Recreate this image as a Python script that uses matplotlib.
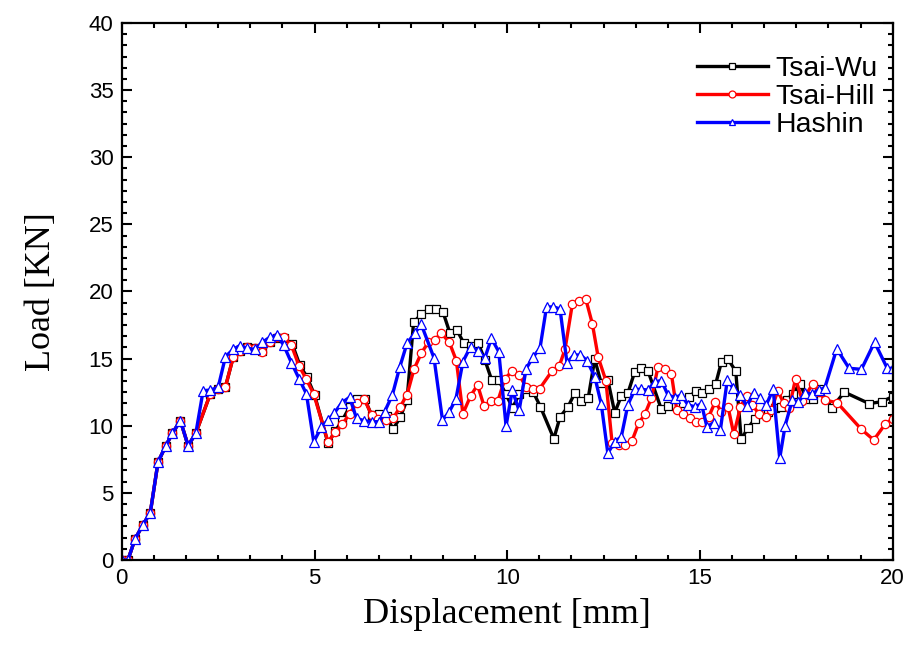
import matplotlib
matplotlib.use('Agg')
import matplotlib.pyplot as plt
from matplotlib.ticker import MultipleLocator, AutoMinorLocator

# Displacement [mm] / Load [KN]
wu_x = [0.0, 0.16, 0.34, 0.54, 0.74, 0.94, 1.14, 1.31, 1.52, 1.72, 1.92, 2.30, 2.50, 2.69,
        2.89, 3.07, 3.25, 3.45, 3.65, 3.84, 4.03, 4.20, 4.42, 4.62, 4.81, 5.00, 5.35, 5.54,
        5.72, 5.91, 6.11, 6.30, 6.48, 6.68, 6.87, 7.04, 7.23, 7.40, 7.57, 7.77, 7.96, 8.15,
        8.33, 8.51, 8.70, 8.87, 9.06, 9.24, 9.42, 9.60, 9.78, 9.97, 10.14, 10.31, 10.50,
        10.67, 10.86, 11.21, 11.37, 11.58, 11.75, 11.92, 12.10, 12.27, 12.44, 12.61, 12.79,
        12.96, 13.13, 13.31, 13.48, 13.65, 14.00, 14.17, 14.38, 14.55, 14.72, 14.89, 15.06,
        15.23, 15.41, 15.56, 15.73, 15.93, 16.07, 16.25, 16.42, 16.60, 16.77, 16.96, 17.11,
        17.26, 17.41, 17.60, 17.76, 17.93, 18.09, 18.42, 18.75, 19.39, 19.72, 20.0]
wu_y = [0.0, 0.0, 1.54, 2.58, 3.53, 7.3, 8.49, 9.43, 10.38, 8.52, 9.43, 12.4, 12.7, 12.9,
        15.1, 15.6, 15.9, 15.8, 15.6, 16.2, 16.5, 16.5, 16.1, 14.5, 13.6, 12.3, 8.7, 9.6,
        10.4, 11.4, 12.0, 12.0, 10.8, 10.9, 10.7, 9.73, 10.68, 11.92, 17.7, 18.3, 18.68, 18.68,
        18.5, 16.93, 17.1, 16.17, 15.95, 16.19, 14.9, 13.38, 13.38, 12.33, 11.33, 12.35, 12.75,
        12.54, 11.42, 9.03, 10.65, 11.42, 12.42, 11.87, 12.04, 14.95, 13.16, 13.41, 10.97,
        12.22, 12.42, 14.03, 14.28, 14.1, 11.22, 11.47, 11.45, 11.67, 12.15, 12.57, 12.44,
        12.71, 13.13, 14.77, 14.95, 14.06, 8.99, 9.85, 10.48, 10.87, 11.05, 11.3, 11.37,
        11.9, 12.4, 13.13, 12.0, 11.97, 12.71, 11.35, 12.5, 11.65, 11.79, 12.17]

hill_x = [0.0, 0.16, 0.34, 0.54, 0.74, 0.94, 1.14, 1.31, 1.52, 1.72, 1.92, 2.30, 2.50, 2.69,
          2.89, 3.07, 3.25, 3.45, 3.65, 3.84, 4.03, 4.20, 4.40, 4.60, 4.79, 4.98, 5.35, 5.54,
          5.72, 5.91, 6.10, 6.29, 6.48, 6.66, 6.85, 7.04, 7.22, 7.40, 7.58, 7.77, 7.95, 8.12,
          8.29, 8.50, 8.68, 8.85, 9.05, 9.23, 9.40, 9.58, 9.76, 9.94, 10.12, 10.31, 10.49,
          10.67, 10.84, 11.16, 11.35, 11.50, 11.69, 11.86, 12.04, 12.21, 12.36, 12.56, 12.72,
          12.89, 13.06, 13.24, 13.41, 13.57, 13.74, 13.91, 14.09, 14.26, 14.40, 14.56, 14.73,
          14.90, 15.06, 15.23, 15.40, 15.55, 15.73, 15.88, 16.05, 16.21, 16.36, 16.53, 16.71,
          16.85, 17.02, 17.17, 17.32, 17.48, 17.66, 17.93, 18.09, 18.25, 18.56, 19.19, 19.51,
          19.81, 20.0]
hill_y = [0.0, 0.0, 1.54, 2.58, 3.53, 7.3, 8.49, 9.43, 10.38, 8.52, 9.43, 12.4, 12.7, 12.9,
          15.1, 15.6, 15.9, 15.8, 15.5, 16.2, 16.6, 16.6, 16.0, 14.45, 13.46, 12.35, 8.8, 9.5,
          10.1, 10.9, 11.7, 12.0, 10.8, 10.5, 10.4, 10.55, 11.4, 12.3, 14.2, 15.4, 16.2, 16.4,
          16.9, 16.2, 14.85, 10.9, 12.22, 13.04, 11.45, 11.87, 11.87, 13.5, 14.05, 13.78, 12.9,
          12.7, 12.75, 14.07, 14.45, 15.69, 19.07, 19.32, 19.42, 17.58, 15.1, 13.36, 8.74,
          8.57, 8.57, 8.89, 10.18, 10.85, 12.04, 14.35, 14.2, 13.85, 11.15, 10.85, 10.55,
          10.3, 10.3, 10.68, 11.8, 11.05, 11.4, 9.35, 11.4, 12.25, 11.55, 10.88, 10.65,
          11.17, 12.61, 11.7, 11.35, 13.5, 11.87, 13.14, 12.54, 11.9, 11.72, 9.73, 8.94,
          10.13, 10.52]

hashin_x = [0.0, 0.16, 0.34, 0.54, 0.74, 0.94, 1.14, 1.31, 1.52, 1.72, 1.92, 2.11, 2.30, 2.50,
            2.69, 2.89, 3.06, 3.25, 3.45, 3.65, 3.84, 4.03, 4.20, 4.40, 4.60, 4.79, 4.98, 5.18,
            5.35, 5.51, 5.71, 5.91, 6.09, 6.28, 6.48, 6.68, 6.82, 7.02, 7.21, 7.40, 7.60, 7.77,
            8.10, 8.32, 8.49, 8.67, 8.85, 9.05, 9.24, 9.42, 9.59, 9.78, 9.97, 10.13, 10.31,
            10.49, 10.67, 10.85, 11.02, 11.20, 11.37, 11.55, 11.73, 11.90, 12.07, 12.27, 12.44,
            12.61, 12.79, 12.96, 13.13, 13.31, 13.48, 13.65, 13.83, 14.00, 14.17, 14.35, 14.52,
            14.69, 14.86, 15.04, 15.18, 15.36, 15.53, 15.71, 15.86, 16.04, 16.22, 16.39, 16.55,
            16.72, 16.90, 17.07, 17.21, 17.40, 17.55, 17.73, 17.90, 18.08, 18.24, 18.55, 18.87,
            19.19, 19.53, 19.86, 20.0]
hashin_y = [0.0, 0.0, 1.54, 2.58, 3.53, 7.3, 8.49, 9.43, 10.38, 8.52, 9.43, 12.61, 12.66, 12.86,
            15.15, 15.69, 15.97, 15.77, 15.69, 16.22, 16.59, 16.76, 16.0, 14.7, 13.5, 12.37, 8.81,
            9.9, 10.43, 10.93, 11.72, 12.12, 10.55, 10.38, 10.3, 10.3, 11.05, 12.29, 14.35, 16.14,
            16.89, 17.55, 15.05, 10.43, 11.0, 12.0, 14.77, 15.89, 15.6, 15.05, 16.51, 15.52, 9.98,
            12.63, 11.15, 14.24, 15.12, 15.77, 18.85, 18.85, 18.7, 14.7, 15.27, 15.27, 14.85,
            13.65, 11.62, 7.95, 8.81, 9.18, 11.55, 12.71, 12.71, 12.66, 13.28, 13.36, 12.29,
            12.1, 12.29, 11.55, 11.42, 11.62, 9.93, 10.23, 9.68, 13.41, 12.79, 12.29, 11.47,
            12.46, 12.04, 11.55, 12.71, 7.57, 10.0, 11.95, 11.75, 12.44, 12.37, 12.66, 12.82,
            15.73, 14.28, 14.2, 16.22, 14.28, 14.28]

fig = plt.figure(figsize=(9.09, 6.47), dpi=100)
ax = fig.add_axes([0.134, 0.1345, 0.848, 0.83])

ax.plot(wu_x, wu_y, '-s', color='black', lw=2.4, ms=5.5, mfc='white', mec='black', mew=0.9,
        label='Tsai-Wu')
ax.plot(hill_x, hill_y, '-o', color='red', lw=2.4, ms=6, mfc='white', mec='red', mew=0.9,
        label='Tsai-Hill')
ax.plot(hashin_x, hashin_y, '-^', color='blue', lw=2.4, ms=6.5, mfc='white', mec='blue', mew=0.9,
        label='Hashin')

ax.set_xlim(0, 20)
ax.set_ylim(0, 40)
ax.xaxis.set_major_locator(MultipleLocator(5))
ax.yaxis.set_major_locator(MultipleLocator(5))
ax.xaxis.set_minor_locator(AutoMinorLocator(6))
ax.yaxis.set_minor_locator(AutoMinorLocator(6))
ax.tick_params(which='both', direction='in', top=True, right=True, width=1.5)
ax.tick_params(which='major', length=7, labelsize=16, pad=6)
ax.tick_params(which='minor', length=3.5)
for lab in ax.get_xticklabels() + ax.get_yticklabels():
    lab.set_family('Liberation Sans')
for sp in ax.spines.values():
    sp.set_linewidth(1.6)

ax.set_xlabel('Displacement [mm]', family='Liberation Serif', fontsize=26, labelpad=6)
ax.set_ylabel('Load [KN]', family='Liberation Serif', fontsize=26, labelpad=22)

leg = ax.legend(loc='upper right', bbox_to_anchor=(0.995, 0.96), frameon=False,
                numpoints=1, handlelength=2.5, handletextpad=0.25, labelspacing=0.08,
                borderaxespad=0.0, prop={'family': 'Liberation Sans', 'size': 20.5})
for h in leg.legend_handles:
    h.set_markersize(5)

fig.savefig('out.png', dpi=100)
